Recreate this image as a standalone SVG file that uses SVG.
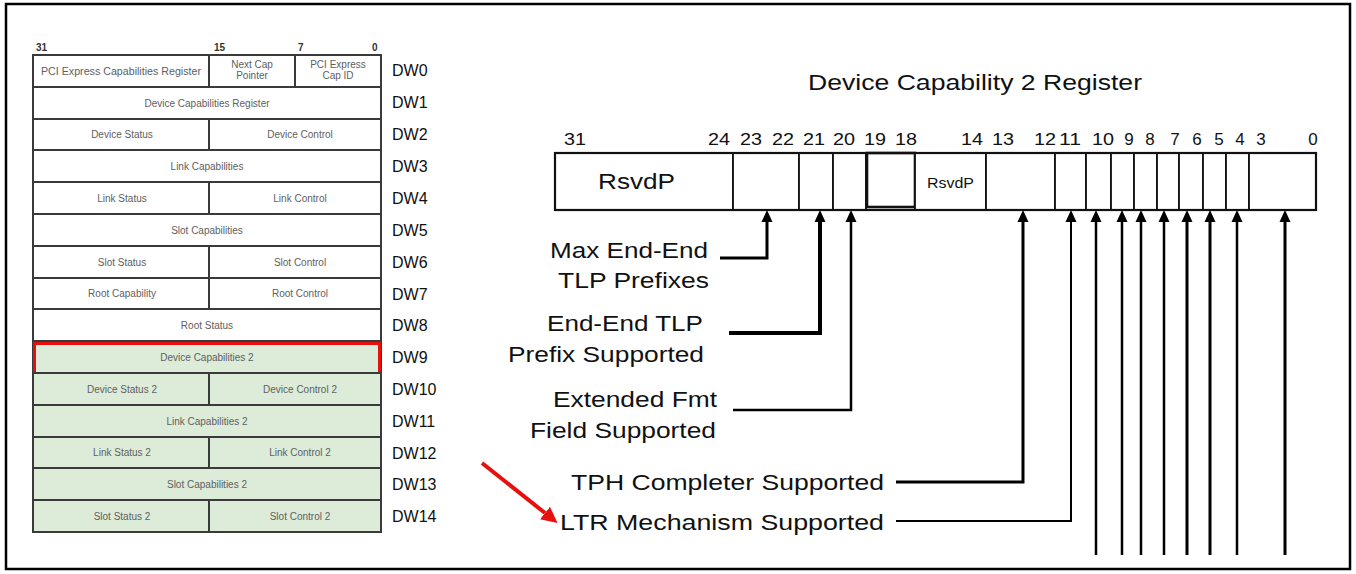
<svg xmlns="http://www.w3.org/2000/svg" width="1356" height="574" viewBox="0 0 1356 574">
<style>
text{font-family:"Liberation Sans",Arial,sans-serif}
.c{fill:#fff;stroke:#3a3a3a;stroke-width:2}
.g{fill:#dcecd9}
.t{font-size:10px;fill:#606060;text-anchor:middle}
.hd{font-size:10px;fill:#333;font-weight:bold}
.dw{font-size:16px;fill:#111}
.f{fill:#fff;stroke:#111;stroke-width:1.8}
.n{font-size:17px;fill:#111;text-anchor:middle}
.l{font-size:22px;fill:#111;text-anchor:end}
.w{stroke:#000;fill:none;marker-end:url(#ah)}
</style>
<defs>
<marker id="ah" viewBox="0 0 12 12" refX="0" refY="6" markerWidth="12" markerHeight="12" markerUnits="userSpaceOnUse" orient="auto"><path d="M0,0.5 L12,6 L0,11.5 z" fill="#000"/></marker>
<marker id="rh" viewBox="0 0 14 14" refX="0" refY="7" markerWidth="16" markerHeight="16" markerUnits="userSpaceOnUse" orient="auto"><path d="M0,0 L14,7 L0,14 z" fill="#e8100c"/></marker>
</defs>
<rect x="0" y="0" width="1356" height="574" fill="#fff"/>
<rect id="frame" x="6" y="4" width="1344" height="565" fill="none" stroke="#000" stroke-width="2.5"/>

<g id="table-header">
<text class="hd" x="36" y="51">31</text>
<text class="hd" x="214" y="51">15</text>
<text class="hd" x="298" y="51">7</text>
<text class="hd" x="372" y="51">0</text>
</g>

<g id="dw0">
<rect class="c" x="33" y="55" width="176" height="32"/>
<rect class="c" x="209" y="55" width="86" height="32"/>
<rect class="c" x="295" y="55" width="86" height="32"/>
<text class="t" x="121" y="74.5" textLength="160" lengthAdjust="spacingAndGlyphs">PCI Express Capabilities Register</text>
<text class="t" x="252" y="68">Next Cap</text><text class="t" x="252" y="79">Pointer</text>
<text class="t" x="338" y="68">PCI Express</text><text class="t" x="338" y="79">Cap ID</text>
<text class="dw" x="392" y="76">DW0</text>
</g>
<g id="dw1">
<rect class="c" x="33" y="87" width="348" height="32"/>
<text class="t" x="207" y="106.5">Device Capabilities Register</text>
<text class="dw" x="392" y="108">DW1</text>
</g>
<g id="dw2">
<rect class="c" x="33" y="119" width="176" height="31"/>
<rect class="c" x="209" y="119" width="172" height="31"/>
<text class="t" x="122" y="138">Device Status</text>
<text class="t" x="300" y="138">Device Control</text>
<text class="dw" x="392" y="140">DW2</text>
</g>
<g id="dw3">
<rect class="c" x="33" y="150" width="348" height="32"/>
<text class="t" x="207" y="169.5">Link Capabilities</text>
<text class="dw" x="392" y="172">DW3</text>
</g>
<g id="dw4">
<rect class="c" x="33" y="182" width="176" height="32"/>
<rect class="c" x="209" y="182" width="172" height="32"/>
<text class="t" x="122" y="201.5">Link Status</text>
<text class="t" x="300" y="201.5">Link Control</text>
<text class="dw" x="392" y="204">DW4</text>
</g>
<g id="dw5">
<rect class="c" x="33" y="214" width="348" height="32"/>
<text class="t" x="207" y="233.5">Slot Capabilities</text>
<text class="dw" x="392" y="236">DW5</text>
</g>
<g id="dw6">
<rect class="c" x="33" y="246" width="176" height="32"/>
<rect class="c" x="209" y="246" width="172" height="32"/>
<text class="t" x="122" y="265.5">Slot Status</text>
<text class="t" x="300" y="265.5">Slot Control</text>
<text class="dw" x="392" y="268">DW6</text>
</g>
<g id="dw7">
<rect class="c" x="33" y="278" width="176" height="31"/>
<rect class="c" x="209" y="278" width="172" height="31"/>
<text class="t" x="122" y="297">Root Capability</text>
<text class="t" x="300" y="297">Root Control</text>
<text class="dw" x="392" y="299.5">DW7</text>
</g>
<g id="dw8">
<rect class="c" x="33" y="309" width="348" height="32"/>
<text class="t" x="207" y="328.5">Root Status</text>
<text class="dw" x="392" y="331">DW8</text>
</g>
<g id="dw9">
<rect class="c g" x="33" y="341" width="348" height="32"/>
<rect x="34.5" y="343.5" width="345" height="30" fill="none" stroke="#e8100c" stroke-width="3"/>
<text class="t" x="207" y="360.5">Device Capabilities 2</text>
<text class="dw" x="392" y="363">DW9</text>
</g>
<g id="dw10">
<rect class="c g" x="33" y="373" width="176" height="32"/>
<rect class="c g" x="209" y="373" width="172" height="32"/>
<text class="t" x="122" y="392.5">Device Status 2</text>
<text class="t" x="300" y="392.5">Device Control 2</text>
<text class="dw" x="392" y="395">DW10</text>
</g>
<g id="dw11">
<rect class="c g" x="33" y="405" width="348" height="32"/>
<text class="t" x="207" y="424.5">Link Capabilities 2</text>
<text class="dw" x="392" y="427">DW11</text>
</g>
<g id="dw12">
<rect class="c g" x="33" y="437" width="176" height="31"/>
<rect class="c g" x="209" y="437" width="172" height="31"/>
<text class="t" x="122" y="456">Link Status 2</text>
<text class="t" x="300" y="456">Link Control 2</text>
<text class="dw" x="392" y="458.5">DW12</text>
</g>
<g id="dw13">
<rect class="c g" x="33" y="468" width="348" height="32"/>
<text class="t" x="207" y="487.5">Slot Capabilities 2</text>
<text class="dw" x="392" y="490">DW13</text>
</g>
<g id="dw14">
<rect class="c g" x="33" y="500" width="176" height="32"/>
<rect class="c g" x="209" y="500" width="172" height="32"/>
<text class="t" x="122" y="519.5">Slot Status 2</text>
<text class="t" x="300" y="519.5">Slot Control 2</text>
<text class="dw" x="392" y="522">DW14</text>
</g>

<g id="title"><text x="808" y="90" font-size="22" fill="#111" textLength="334" lengthAdjust="spacingAndGlyphs">Device Capability 2 Register</text></g>

<g id="bit-numbers">
<text class="n" x="575" y="145" textLength="22" lengthAdjust="spacingAndGlyphs">31</text>
<text class="n" x="719" y="145" textLength="22" lengthAdjust="spacingAndGlyphs">24</text>
<text class="n" x="751" y="145" textLength="22" lengthAdjust="spacingAndGlyphs">23</text>
<text class="n" x="783" y="145" textLength="22" lengthAdjust="spacingAndGlyphs">22</text>
<text class="n" x="814" y="145" textLength="22" lengthAdjust="spacingAndGlyphs">21</text>
<text class="n" x="844" y="145" textLength="22" lengthAdjust="spacingAndGlyphs">20</text>
<text class="n" x="875" y="145" textLength="22" lengthAdjust="spacingAndGlyphs">19</text>
<text class="n" x="906" y="145" textLength="22" lengthAdjust="spacingAndGlyphs">18</text>
<text class="n" x="972" y="145" textLength="22" lengthAdjust="spacingAndGlyphs">14</text>
<text class="n" x="1003" y="145" textLength="22" lengthAdjust="spacingAndGlyphs">13</text>
<text class="n" x="1045" y="145" textLength="22" lengthAdjust="spacingAndGlyphs">12</text>
<text class="n" x="1070" y="145" textLength="22" lengthAdjust="spacingAndGlyphs">11</text>
<text class="n" x="1103" y="145" textLength="22" lengthAdjust="spacingAndGlyphs">10</text>
<text class="n" x="1129" y="145">9</text>
<text class="n" x="1150" y="145">8</text>
<text class="n" x="1175" y="145">7</text>
<text class="n" x="1197" y="145">6</text>
<text class="n" x="1219" y="145">5</text>
<text class="n" x="1240" y="145">4</text>
<text class="n" x="1261" y="145">3</text>
<text class="n" x="1313" y="145">0</text>
</g>

<g id="register">
<g id="f31-24"><rect class="f" x="555" y="153" width="178" height="57"/><text x="598" y="189" font-size="22" fill="#111" textLength="77" lengthAdjust="spacingAndGlyphs">RsvdP</text></g>
<g id="f23-22"><rect class="f" x="733" y="153" width="66" height="57"/></g>
<g id="f21"><rect class="f" x="799" y="153" width="34" height="57"/></g>
<g id="f20"><rect class="f" x="833" y="153" width="33" height="57"/></g>
<g id="f19-18"><rect class="f" x="866" y="153" width="49" height="57"/><rect x="867" y="153" width="48" height="54" fill="none" stroke="#111" stroke-width="2.6"/></g>
<g id="f17-14"><rect class="f" x="915" y="153" width="71" height="57"/><text x="927" y="188" font-size="14" fill="#111" textLength="47" lengthAdjust="spacingAndGlyphs">RsvdP</text></g>
<g id="f13-12"><rect class="f" x="986" y="153" width="69" height="57"/></g>
<g id="f11"><rect class="f" x="1055" y="153" width="31" height="57"/></g>
<g id="f10"><rect class="f" x="1086" y="153" width="25" height="57"/></g>
<g id="f9"><rect class="f" x="1111" y="153" width="23" height="57"/></g>
<g id="f8"><rect class="f" x="1134" y="153" width="23" height="57"/></g>
<g id="f7"><rect class="f" x="1157" y="153" width="22" height="57"/></g>
<g id="f6"><rect class="f" x="1179" y="153" width="24" height="57"/></g>
<g id="f5"><rect class="f" x="1203" y="153" width="23" height="57"/></g>
<g id="f4"><rect class="f" x="1226" y="153" width="23" height="57"/></g>
<g id="f3-0"><rect class="f" x="1249" y="153" width="67" height="57"/></g>
<rect x="555" y="153" width="761" height="57" fill="none" stroke="#111" stroke-width="2.2"/>
</g>

<g id="labels">
<text class="l" x="708" y="258" textLength="158" lengthAdjust="spacingAndGlyphs">Max End-End</text>
<text class="l" x="709" y="288" textLength="151" lengthAdjust="spacingAndGlyphs">TLP Prefixes</text>
<text class="l" x="703" y="331" textLength="156" lengthAdjust="spacingAndGlyphs">End-End TLP</text>
<text class="l" x="704" y="362" textLength="196" lengthAdjust="spacingAndGlyphs">Prefix Supported</text>
<text class="l" x="717" y="407" textLength="164" lengthAdjust="spacingAndGlyphs">Extended Fmt</text>
<text class="l" x="716" y="438" textLength="186" lengthAdjust="spacingAndGlyphs">Field Supported</text>
<text class="l" x="884" y="490" textLength="313" lengthAdjust="spacingAndGlyphs">TPH Completer Supported</text>
<text class="l" x="884" y="530" textLength="324" lengthAdjust="spacingAndGlyphs">LTR Mechanism Supported</text>
</g>

<g id="connectors">
<path class="w" d="M720,258 H767 V222" stroke-width="3"/>
<path class="w" d="M729,333 H820 V222" stroke-width="4"/>
<path class="w" d="M733,410 H851 V222" stroke-width="2.5"/>
<path class="w" d="M896,482 H1023 V222" stroke-width="3"/>
<path class="w" d="M896,521 H1071 V222" stroke-width="2"/>
<path class="w" d="M1096,555 V222" stroke-width="2.5"/>
<path class="w" d="M1122,555 V222" stroke-width="2.5"/>
<path class="w" d="M1141,555 V222" stroke-width="2.5"/>
<path class="w" d="M1164,555 V222" stroke-width="2.5"/>
<path class="w" d="M1187,555 V222" stroke-width="3"/>
<path class="w" d="M1210,555 V222" stroke-width="3"/>
<path class="w" d="M1237,555 V222" stroke-width="2.5"/>
<path class="w" d="M1285,555 V222" stroke-width="3"/>
<path d="M482,463 L545,513" stroke="#e8100c" stroke-width="4" fill="none" marker-end="url(#rh)"/>
</g>
</svg>
